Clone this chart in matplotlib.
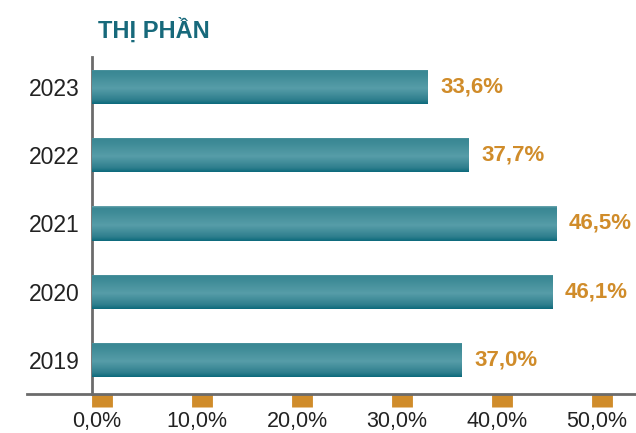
import numpy as np
import matplotlib
matplotlib.use("Agg")
import matplotlib.pyplot as plt
import matplotlib.transforms as mtransforms
from matplotlib.colors import LinearSegmentedColormap

plt.rcParams["font.family"] = ["Liberation Sans", "DejaVu Sans"]

years = ["2019", "2020", "2021", "2022", "2023"]
share = [37.0, 46.1, 46.5, 37.7, 33.6]
tick_vals = [0, 10, 20, 30, 40, 50]
tick_labels = ["0,0%", "10,0%", "20,0%", "30,0%", "40,0%", "50,0%"]

teal = "#17697b"
orange = "#d08c2a"
bar_cmap = LinearSegmentedColormap.from_list(
    "bar", [(0.0, "#0d6a7c"), (0.12, "#2f7f8e"), (0.45, "#579da8"),
            (0.85, "#3d8a96"), (0.95, "#3a8894"), (1.0, "#6aa5ae")]
)

fig = plt.figure(figsize=(6.36, 4.33), dpi=100)
ax = fig.add_axes([27 / 636, 1 - 394 / 433, 1 - 27 / 636, (394 - 57) / 433])

bar_h = 0.5
ypos = np.arange(len(years))
bars = ax.barh(ypos, share, height=bar_h, color="#4a95a0", zorder=2)
grad = np.linspace(0, 1, 64).reshape(-1, 1)
for b, y, v in zip(bars, ypos, share):
    im = ax.imshow(grad, cmap=bar_cmap, origin="lower", aspect="auto",
                   extent=(0, v, y - bar_h / 2, y + bar_h / 2), zorder=3)
    im.set_clip_path(b)
    ax.text(v + 1.2, y, f"{v:.1f}%".replace(".", ","), va="center", ha="left",
            fontsize=16, fontweight="bold", color=orange)

ax.set_xlim(-6.5, 54.4)
ax.set_ylim(-0.5, 4.44)
ax.set_yticks(ypos)
ax.set_yticklabels(years)
ax.tick_params(axis="y", length=0, pad=9, labelsize=16.5, labelcolor="#222222")

ax.set_xticks(tick_vals)
ax.set_xticklabels(tick_labels)
ax.tick_params(axis="x", direction="out", length=9, width=15, color=orange,
               pad=3, labelsize=15.5, labelcolor="#222222")
tick_shift = mtransforms.ScaledTranslation(10 / 100, 0, fig.dpi_scale_trans)
label_shift = mtransforms.ScaledTranslation(5 / 100, 0, fig.dpi_scale_trans)
for t in ax.xaxis.get_major_ticks():
    t.tick1line.set_transform(t.tick1line.get_transform() + tick_shift)
    t.label1.set_transform(t.label1.get_transform() + label_shift)

for s in ["top", "right"]:
    ax.spines[s].set_visible(False)
ax.spines["left"].set_position(("data", 0))
ax.spines["left"].set_color("#6b6b6b")
ax.spines["left"].set_linewidth(2)
ax.spines["bottom"].set_color("#6b6b6b")
ax.spines["bottom"].set_linewidth(2)

fig.text(98 / 636, 1 - 30 / 433, "THỊ PHẦN", fontsize=17, fontweight="bold",
         color=teal, va="center", ha="left")

fig.savefig("out.png", dpi=100)
